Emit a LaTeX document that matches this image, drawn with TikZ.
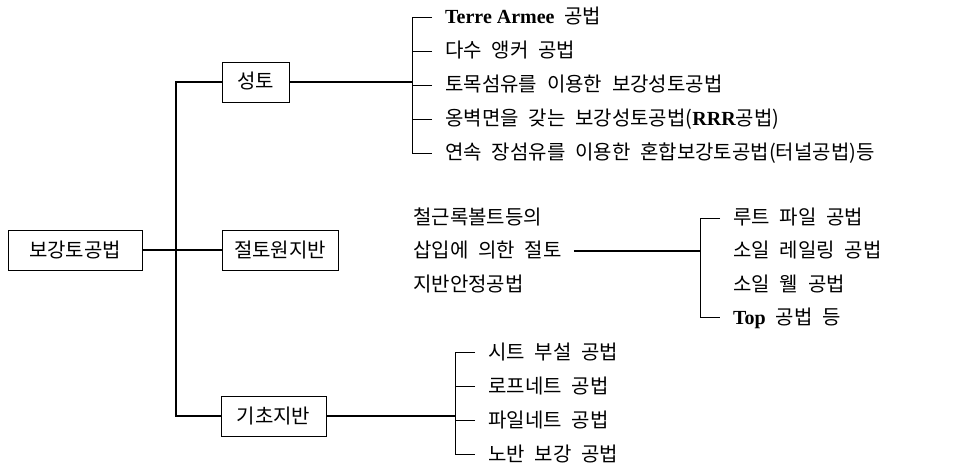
\documentclass[tikz,border=0pt]{standalone}
\usepackage{fontspec}
\setmainfont{Liberation Serif}
\newfontfamily\kr[WordSpace=2.2]{Noto Sans CJK KR}
\newfontfamily\lat{Liberation Serif}
\begin{document}
\begin{tikzpicture}[x=1pt,y=-1pt,
  txt/.style={font=\kr\fontsize{20}{24}\selectfont, text height=16pt, text depth=2pt},
  box/.style={txt, draw, line width=0.8pt, inner sep=0pt, minimum height=40pt},
  item/.style={txt, anchor=west, inner sep=0pt},
  latin/.style={font=\lat\bfseries\fontsize{20}{24}\selectfont},
  trunk/.style={line width=1.6pt},
  brk/.style={line width=0.8pt}]
\useasboundingbox (0,0) rectangle (970,468);
% main boxes
\node[box, minimum width=134pt] (root) at (75,250) {보강토공법};
\node[box, minimum width=67pt] (st) at (255.5,82) {성토};
\node[box, minimum width=116pt] (jt) at (280,250) {절토원지반};
\node[box, minimum width=105pt] (gc) at (273.5,416) {기초지반};
\coordinate (tk) at (176,416);
\draw[trunk] (st.west) -| (tk) -- (gc.west);
\draw[trunk] (root.east) -- (jt.west);
% top group
\node[item] (a1) at (445,17) {{\lat\bfseries Terre Armee} 공법};
\node[item] (a2) at (445,51) {다수 앵커 공법};
\node[item] (a3) at (445,85) {토목섬유를 이용한 보강성토공법};
\node[item] (a4) at (445,119) {옹벽면을 갖는 보강성토공법({\lat\bfseries RRR}공법)};
\node[item] (a5) at (445,153) {연속 장섬유를 이용한 혼합보강토공법(터널공법)등};
\coordinate (tb) at (412,82);
\draw[trunk] (st.east) -- (tb);
\draw[brk] ([xshift=-13pt]a1.west) -- ++(-20,0) |- ([xshift=-13pt]a5.west);
\foreach \n in {a2,a3,a4} \draw[brk] ([xshift=-13pt]\n.west) -- ++(-20,0);
% middle group
\node[item] (m1) at (413,218) {철근록볼트등의};
\node[item] (m2) at (413,251) {삽입에 의한 절토};
\node[item] (m3) at (413,284) {지반안정공법};
\coordinate (rb) at (700,251);
\draw[trunk] ([xshift=12pt]m2.east) -- (rb);
\node[item] (r1) at (733,218) {루트 파일 공법};
\node[item] (r2) at (733,251) {소일 레일링 공법};
\node[item] (r3) at (733,284) {소일 웰 공법};
\node[item] (r4) at (733,317) {{\lat\bfseries Top} 공법 등};
\draw[brk] ([xshift=-13pt]r1.west) -- ++(-20,0) |- ([xshift=-13pt]r4.west);
% bottom group
\node[item] (b1) at (488,352) {시트 부설 공법};
\node[item] (b2) at (488,386) {로프네트 공법};
\node[item] (b3) at (488,420) {파일네트 공법};
\node[item] (b4) at (488,454) {노반 보강 공법};
\coordinate (bb) at (455,416);
\draw[trunk] (gc.east) -- (bb);
\draw[brk] ([xshift=-13pt]b1.west) -- ++(-20,0) |- ([xshift=-13pt]b4.west);
\foreach \n in {b2,b3} \draw[brk] ([xshift=-13pt]\n.west) -- ++(-20,0);
\end{tikzpicture}
\end{document}
